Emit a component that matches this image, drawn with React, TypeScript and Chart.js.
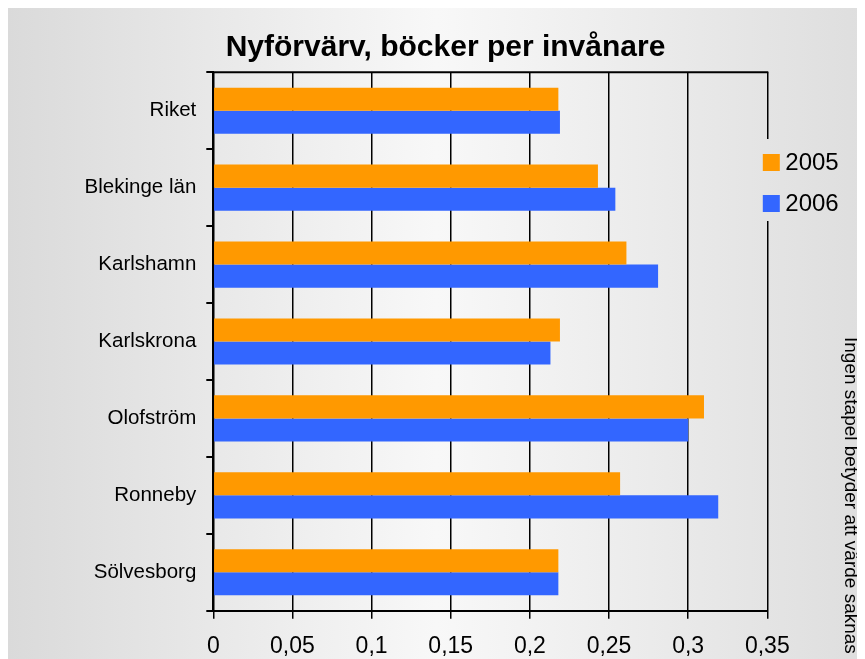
import { useEffect, useRef } from "react";
import { Chart, registerables } from "chart.js";

Chart.register(...registerables);

const categories = ["Riket", "Blekinge län", "Karlshamn", "Karlskrona", "Olofström", "Ronneby", "Sölvesborg"];
const values2005 = [0.218, 0.243, 0.261, 0.219, 0.31, 0.257, 0.218];
const values2006 = [0.219, 0.254, 0.281, 0.213, 0.3, 0.319, 0.218];
const seriesLabels = ["2005", "2006"];
const xTickLabels = ["0", "0,05", "0,1", "0,15", "0,2", "0,25", "0,3", "0,35"];
const titleText = "Nyförvärv, böcker per invånare";
const noteText = "Ingen stapel betyder att värde saknas";
const seriesColors = ["#FF9900", "#3366FF"];

const FONT = "'Liberation Sans', Arial, Helvetica, sans-serif";
const W = 857;
const H = 660;

function makeGradient(ctx: CanvasRenderingContext2D, w: number) {
  const g = ctx.createLinearGradient(0, 0, w, 0);
  g.addColorStop(0, "#dadada");
  g.addColorStop(0.5, "#f8f8f8");
  g.addColorStop(1, "#dedede");
  return g;
}

const decorPlugin = {
  id: "decor",
  beforeDraw(chart: any) {
    const ctx = chart.ctx as CanvasRenderingContext2D;
    ctx.save();
    ctx.fillStyle = makeGradient(ctx, chart.width);
    ctx.fillRect(0, 0, chart.width, chart.height);
    ctx.restore();
  },
  afterDraw(chart: any) {
    const ctx = chart.ctx as CanvasRenderingContext2D;
    const a = chart.chartArea;
    ctx.save();
    // top border
    ctx.strokeStyle = "#000";
    ctx.lineWidth = 2;
    ctx.beginPath();
    ctx.moveTo(a.left, a.top);
    ctx.lineTo(a.right + 1, a.top);
    ctx.stroke();

    // title
    ctx.fillStyle = "#000";
    ctx.font = `bold 30px ${FONT}`;
    ctx.textAlign = "center";
    ctx.textBaseline = "middle";
    ctx.fillText(titleText, 437.5, 40);

    // legend (covers part of right border)
    ctx.fillStyle = makeGradient(ctx, chart.width);
    ctx.fillRect(a.right - 8, 131, 20, 82);
    const rows = [154.5, 195.5];
    ctx.font = `24px ${FONT}`;
    ctx.textAlign = "left";
    ctx.textBaseline = "middle";
    for (let i = 0; i < seriesLabels.length; i++) {
      ctx.fillStyle = seriesColors[i];
      ctx.fillRect(a.right - 4.5, rows[i] - 8.5, 17, 17);
      ctx.fillStyle = "#000";
      ctx.fillText(seriesLabels[i], a.right + 18, rows[i] + 1);
    }

    // rotated note
    ctx.translate(842, 329);
    ctx.rotate(Math.PI / 2);
    ctx.font = `19px ${FONT}`;
    ctx.textAlign = "left";
    ctx.textBaseline = "middle";
    ctx.fillStyle = "#000";
    ctx.fillText(noteText, 0, 0);
    ctx.restore();
  },
};

export default function App() {
  const ref = useRef<HTMLCanvasElement | null>(null);
  useEffect(() => {
    document.body.style.overflow = "hidden";
    document.documentElement.style.overflow = "hidden";
    const canvas = ref.current;
    if (!canvas) return;
    const chart = new Chart(canvas, {
      type: "bar",
      data: {
        labels: categories,
        datasets: [
          { label: seriesLabels[0], data: values2005, backgroundColor: seriesColors[0], borderWidth: 0 },
          { label: seriesLabels[1], data: values2006, backgroundColor: seriesColors[1], borderWidth: 0 },
        ],
      },
      options: {
        indexAxis: "y",
        responsive: false,
        animation: false,
        devicePixelRatio: 1,
        datasets: { bar: { categoryPercentage: 0.6, barPercentage: 1 } },
        layout: { padding: { top: 64.3, right: 97.7, bottom: 0, left: 0 } },
        plugins: {
          legend: { display: false },
          title: { display: false },
          tooltip: { enabled: false },
        },
        scales: {
          x: {
            type: "linear",
            min: 0,
            max: 0.35,
            afterFit: (s: any) => {
              s.height = 57.3;
            },
            ticks: {
              stepSize: 0.05,
              color: "#000",
              font: { family: FONT, size: 23 },
              padding: 14,
              maxRotation: 0,
              autoSkip: false,
              callback: (_v: any, i: number) => xTickLabels[i],
            },
            grid: {
              color: "#000",
              lineWidth: 1.5,
              drawTicks: true,
              tickLength: 8,
            },
            border: { display: true, color: "#000", width: 2 },
          },
          y: {
            type: "category",
            afterFit: (s: any) => {
              s.width = 205.3;
            },
            ticks: {
              color: "#000",
              font: { family: FONT, size: 20.5 },
              padding: 10,
              autoSkip: false,
            },
            grid: {
              offset: true,
              drawOnChartArea: false,
              drawTicks: true,
              tickLength: 7,
              color: "#000",
              lineWidth: 2,
            },
            border: { display: true, color: "#000", width: 2 },
          },
        },
      },
      plugins: [decorPlugin],
    } as any);
    return () => chart.destroy();
  }, []);
  return (
    <div style={{ width: W, height: H }}>
      <canvas ref={ref} width={W} height={H} style={{ display: "block", width: W, height: H }} />
    </div>
  );
}
